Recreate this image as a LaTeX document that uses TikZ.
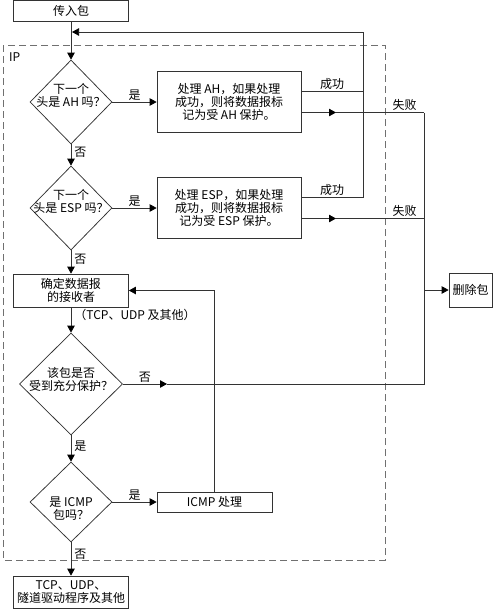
\documentclass[tikz,border=0pt]{standalone}
\usepackage{fontspec}
\newfontfamily\cjk{Noto Sans CJK SC}
\usetikzlibrary{arrows.meta,positioning,shapes.geometric,calc}
\definecolor{ink}{HTML}{333333}
\definecolor{ipframe}{HTML}{707070}
\tikzset{
  txt/.style={font=\cjk\fontsize{12}{13}\selectfont, align=center, inner sep=0pt},
  box/.style={txt, draw=ink, fill=white, line width=0.75pt},
  dec/.style={diamond, draw=ink, line width=0.75pt, inner sep=0pt},
  ar/.style={-{Triangle[length=7pt,width=7.5pt,color=black]}, line width=0.75pt, draw=ink},
  ln/.style={line width=0.75pt, draw=ink},
  lbl/.style={txt}
}

\begin{document}
\begin{tikzpicture}[x=1pt, y=-1pt]
  \useasboundingbox (0,0) rectangle (494,611);

  % IP frame
  \draw[draw=ipframe, line width=0.75pt, dash pattern=on 7pt off 4pt] (3,45) rectangle (385,560);
  \node[lbl, anchor=west] (ip) at (9,57) {IP};

  % helper positions
  \coordinate (loop) at (363,32);
  \coordinate (merge) at (71,32);
  \coordinate (mid) at (336,0);
  \coordinate (drop) at (424,0);
  \coordinate (mid2) at (167,0);

  \node[box, minimum width=115pt, minimum height=20.5pt] (inc) at (71,10.75) {传入包};

  % AH and ESP checks
  \foreach \n/\y/\key in {ah/102/AH, esp/208/ESP} {
    \node[dec, minimum width=82pt, minimum height=84pt] (\n) at (71,\y) {};
    \node[txt] (q\n) at ([yshift=6.5pt]\n) {下一个\\头是 \key{} 吗？};
    \node[box, minimum width=144pt, minimum height=61pt] (box\n) at (229,\y)
      {处理 \key，如果处理\\成功，则将数据报标\\记为受 \key{} 保护。};
    \coordinate (ok\n) at ([yshift=10.5pt]box\n.east);
    \coordinate (fail\n) at ([yshift=-10.5pt]box\n.east);
    \draw[ar] (\n) -- node[lbl, above=1.5pt] {是} (box\n);
    \draw[ln] (ok\n) -- node[lbl, above=1.5pt] {成功} (ok\n -| loop) -- (loop);
    \draw[ar] (fail\n) -- (fail\n -| mid);
    \draw[ln] (fail\n -| mid) -- node[lbl, above=1.5pt, pos=.78] {失败} (fail\n -| drop);
  }
  \draw[ar] (inc) -- (ah);
  \draw[ar, shorten >=1pt] (loop) -- (merge);
  \draw[ar] (ah) -- node[lbl, right=3pt, pos=.35] {否} (esp);

  \node[box, minimum width=115pt, minimum height=33pt] (dest) at (71,290.5) {确定数据报\\的接收者};
  \draw[ar] (esp) -- node[lbl, right=3pt, pos=.4] {否} (dest);

  \node[box, minimum width=43pt, minimum height=34pt] (del) at (470.5,290) {删除包};

  % protection check
  \node[dec, minimum width=103pt, minimum height=102pt] (prot) at (71,384) {};
  \node[txt] (qprot) at ([yshift=4.5pt]prot) {该包是否\\受到充分保护？};
  \draw[ar] (dest) -- node[lbl, right=3pt, pos=.3] {（TCP、UDP 及其他）} (prot);
  \draw[ar] (prot) -- node[lbl, above=1.5pt] {否} (prot.east -| mid2);
  \draw[ln] (prot.east -| mid2) -- (prot.east -| drop) -- (failah -| drop);
  \draw[ar] (del.west -| drop) -- (del);

  % ICMP check
  \node[dec, minimum width=82pt, minimum height=80pt] (icmp) at (71,502) {};
  \node[txt] (qicmp) at ([yshift=-6.5pt]icmp) {是 ICMP\\包吗？};
  \draw[ar] (prot) -- node[lbl, right=3pt, pos=.4] {是} (icmp);
  \node[box, minimum width=115pt, minimum height=20pt] (icmpbox) at (214.5,502) {ICMP 处理};
  \draw[ar] (icmp) -- node[lbl, above=1.5pt] {是} (icmpbox);
  \draw[ar] (icmpbox) |- (dest);

  \node[box, minimum width=115pt, minimum height=32pt] (out) at (71,592) {TCP、UDP、\\隧道驱动程序及其他};
  \draw[ar] (icmp) -- node[lbl, right=3pt, pos=.35] {否} (out);
\end{tikzpicture}
\end{document}
